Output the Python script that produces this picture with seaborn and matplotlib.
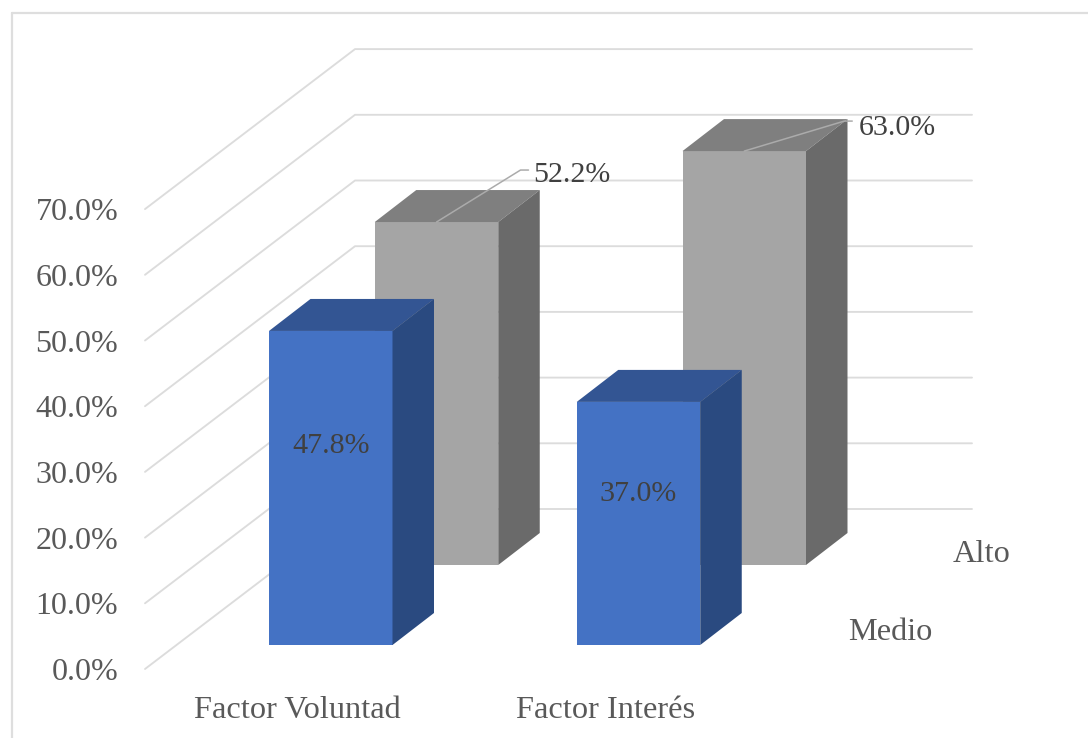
import matplotlib
matplotlib.use("Agg")
import matplotlib.pyplot as plt
from matplotlib.lines import Line2D
from matplotlib.patches import Polygon
import pandas as pd
import seaborn as sns

# ---- data -------------------------------------------------------------
categories = ["Factor Voluntad", "Factor Interés"]
medio_values = [47.8, 37.0]
alto_values = [52.2, 63.0]
series_names = ["Medio", "Alto"]
axis_levels = [0, 10, 20, 30, 40, 50, 60, 70]

# ---- geometry of the pseudo-3D projection (pixels) ---------------------
W, H = 1088, 738
PX_PER_UNIT = 6.57
SPACING = 307.75
BAR_W = 123.5 / SPACING
DEPTH_X, DEPTH_Y = 41.5, 32
WALL_LEFT, WALL_BACK, WALL_RIGHT = 145, 355, 972
WALL_BASE, WALL_RISE, WALL_TOP = 669, 160, 40

BLUE = ("#4472C4", "#335593", "#2A4A80")
GRAY = ("#A5A5A5", "#7F7F7F", "#6A6A6A")
GRID = "#DCDCDC"
TICK_C = "#595959"
LABEL_C = "#404040"

sns.set_theme(style="white")
plt.rcParams["font.family"] = ["Liberation Serif", "DejaVu Serif"]
fig = plt.figure(figsize=(W / 100, H / 100), dpi=100, facecolor="white")

# outer chart frame
for xs, ys in (((11.5, 11.5), (H, 13)), ((11.5, W), (13, 13))):
    fig.add_artist(Line2D([x / W for x in xs], [1 - y / H for y in ys],
                          color="#DEDEDE", lw=1.6))


# ---- wall with the value axis -------------------------------------------
ax_wall = fig.add_axes([WALL_LEFT / W, 1 - WALL_BASE / H,
                        (WALL_RIGHT - WALL_LEFT) / W,
                        (WALL_BASE - WALL_TOP) / H], zorder=0)
rise = WALL_RISE / PX_PER_UNIT
wall_rows = []
for lv in axis_levels:
    wall_rows += [(lv, WALL_LEFT, lv), (lv, WALL_BACK, lv + rise),
                  (lv, WALL_RIGHT, lv + rise)]
wall_df = pd.DataFrame(wall_rows, columns=["level", "x", "y"])
sns.lineplot(data=wall_df, x="x", y="y", units="level", estimator=None,
             sort=False, color=GRID, lw=1.35, ax=ax_wall)
for ln in ax_wall.get_lines():
    ln.set_clip_on(False)
ax_wall.set_xlim(WALL_LEFT, WALL_RIGHT)
ax_wall.set_ylim(0, (WALL_BASE - WALL_TOP) / PX_PER_UNIT)
ax_wall.set_xticks([])
ax_wall.set_yticks(axis_levels, [f"{v:.1f}%" for v in axis_levels])
ax_wall.set_xlabel("")
ax_wall.set_ylabel("")
ax_wall.tick_params(axis="y", length=0, pad=19.2, labelsize=23, colors=TICK_C)
for s in ax_wall.spines.values():
    s.set_visible(False)
ax_wall.patch.set_alpha(0)


def bar_axes(values, first_center_px, base_px, colours, z):
    """Full-figure axes whose scales put category 0 and value 0 at the given pixels."""
    ax = fig.add_axes([0, 0, 1, 1], zorder=z)
    df = pd.DataFrame({"cat": categories, "val": values})
    sns.barplot(data=df, x="cat", y="val", color=colours[0], saturation=1,
                width=BAR_W, gap=0, errorbar=None, ax=ax, linewidth=0)
    ax.set_xlim(-first_center_px / SPACING, (W - first_center_px) / SPACING)
    ax.set_ylim((base_px - H) / PX_PER_UNIT, base_px / PX_PER_UNIT)
    ddx, ddy = DEPTH_X / SPACING, DEPTH_Y / PX_PER_UNIT
    for p in list(ax.patches):
        x0, x1, h = p.get_x(), p.get_x() + p.get_width(), p.get_height()
        ax.add_patch(Polygon([(x0, h), (x1, h), (x1 + ddx, h + ddy), (x0 + ddx, h + ddy)],
                             closed=True, fc=colours[1], ec="none"))
        ax.add_patch(Polygon([(x1, 0), (x1 + ddx, ddy), (x1 + ddx, h + ddy), (x1, h)],
                             closed=True, fc=colours[2], ec="none"))
    ax.set_axis_off()
    ax.patch.set_alpha(0)
    return ax


# ---- back row (Alto) ----------------------------------------------------
ax_alto = bar_axes(alto_values, 436.5, 565, GRAY, 1)
leaders = [((84, 52), (92, 52), (97, -5)), ((100, 30), (108, 30), (115, -7))]
for i, (v, (a, b, t)) in enumerate(zip(alto_values, leaders)):
    ax_alto.plot([i, i + a[0] / SPACING, i + b[0] / SPACING],
                 [v, v + a[1] / PX_PER_UNIT, v + b[1] / PX_PER_UNIT],
                 color="#ABABAB", lw=1.1, zorder=6)
    ax_alto.text(i + t[0] / SPACING, v + (a[1] + t[1]) / PX_PER_UNIT, f"{v:.1f}%",
                 ha="left", va="center", fontsize=21.6, color=LABEL_C, zorder=7)

# ---- front row (Medio) --------------------------------------------------
ax_medio = bar_axes(medio_values, 330.75, 645, BLUE, 2)
label_drop = [115, 92]
for i, (v, d) in enumerate(zip(medio_values, label_drop)):
    ax_medio.text(i, v - d / PX_PER_UNIT, f"{v:.1f}%", ha="center", va="center",
                  fontsize=21.6, color=LABEL_C, zorder=7)
for i, c in enumerate(categories):
    ax_medio.text(i - 33 / SPACING, (645 - 710) / PX_PER_UNIT, c, ha="center",
                  va="center", fontsize=23.3, color=TICK_C)

# series names along the depth axis
fig.text(890 / W, 1 - 633 / H, series_names[0], ha="center", va="center",
         fontsize=23.3, color=TICK_C)
fig.text(982 / W, 1 - 555 / H, series_names[1], ha="center", va="center",
         fontsize=23.3, color=TICK_C)

fig.savefig("out.png", dpi=100, facecolor="white")
